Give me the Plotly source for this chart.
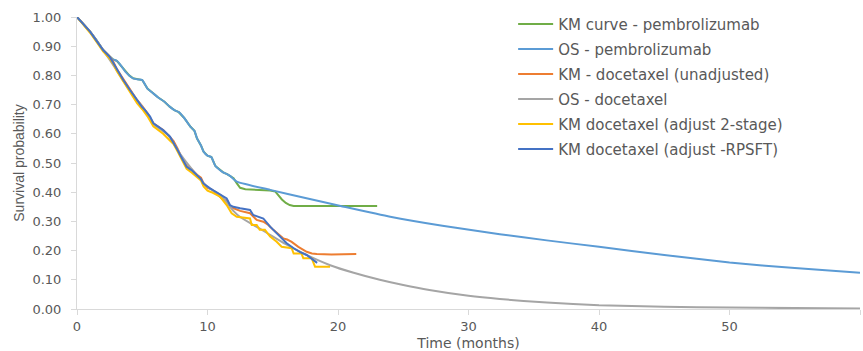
import plotly.graph_objects as go

# ---- data ----
t_pembro_km = [0, 0.5, 1.0, 1.5, 2.0, 2.5, 2.75, 3.05, 3.4, 3.7, 4.0, 4.3, 4.7, 5.0, 5.4, 5.8, 6.2, 6.7,
               7.1, 7.5, 7.8, 8.2, 8.7, 9.0, 9.2, 9.5, 9.7, 10.0, 10.3, 10.6, 10.9, 11.2, 11.5, 11.75,
               12.0, 12.25, 12.5, 12.9, 13.5, 14.2, 14.8, 15.2, 15.5, 15.7, 16.0, 16.3, 16.6, 18.0,
               20.0, 21.5, 23.0]
s_pembro_km = [1.0, 0.975, 0.95, 0.92, 0.887, 0.865, 0.855, 0.85, 0.832, 0.813, 0.80, 0.79, 0.786,
               0.784, 0.755, 0.74, 0.725, 0.71, 0.693, 0.68, 0.674, 0.655, 0.624, 0.61, 0.584, 0.56,
               0.539, 0.525, 0.52, 0.49, 0.478, 0.468, 0.462, 0.455, 0.448, 0.43, 0.415, 0.41, 0.408,
               0.407, 0.406, 0.402, 0.385, 0.375, 0.363, 0.356, 0.353, 0.353, 0.353, 0.353, 0.353]

t_pembro_os = [0, 0.5, 1.0, 1.5, 2.0, 2.5, 2.75, 3.05, 3.4, 3.7, 4.0, 4.3, 4.7, 5.0, 5.4, 5.8, 6.2, 6.7,
               7.1, 7.5, 7.8, 8.2, 8.7, 9.0, 9.2, 9.5, 9.7, 10.0, 10.3, 10.6, 10.9, 11.2, 11.5, 11.75,
               12.24, 14.8, 17.5, 20.2, 24.0, 28.0, 32.4, 36.0, 40.0, 45.0, 50.0, 55.0, 60.0]
s_pembro_os = [1.0, 0.975, 0.95, 0.92, 0.887, 0.865, 0.855, 0.85, 0.832, 0.813, 0.80, 0.79, 0.786,
               0.784, 0.755, 0.74, 0.725, 0.71, 0.693, 0.68, 0.674, 0.655, 0.624, 0.61, 0.584, 0.56,
               0.539, 0.525, 0.52, 0.49, 0.478, 0.468, 0.462, 0.455,
               0.436, 0.408, 0.38, 0.353, 0.316, 0.285, 0.256, 0.235, 0.213, 0.185, 0.159, 0.14, 0.124]

t_doc_km = [0, 0.5, 1.0, 1.5, 2.0, 2.5, 2.8, 3.05, 3.5, 4.0, 4.3, 4.6, 5.0, 5.4, 5.85, 6.2, 6.6, 7.1,
            7.4, 7.7, 8.0, 8.4, 8.8, 9.2, 9.5, 9.7, 10.0, 10.3, 10.8, 11.2, 11.5, 11.72, 12.0, 12.5,
            13.26, 13.5, 13.77, 14.28, 14.6, 15.04, 15.4, 15.8, 16.1, 16.45, 16.96, 17.3, 17.6, 18.0,
            18.37, 19.5, 20.5, 21.4]
s_doc_km = [1.0, 0.975, 0.95, 0.918, 0.887, 0.865, 0.845, 0.822, 0.79, 0.755, 0.735, 0.716, 0.695,
            0.67, 0.636, 0.625, 0.613, 0.59, 0.575, 0.55, 0.52, 0.49, 0.478, 0.46, 0.45, 0.43, 0.415,
            0.41, 0.39, 0.375, 0.372, 0.35, 0.345, 0.336, 0.328, 0.318, 0.305, 0.299, 0.29, 0.271,
            0.258, 0.242, 0.238, 0.23, 0.213, 0.205, 0.196, 0.19, 0.188, 0.187, 0.187, 0.188]

t_doc_os = [0, 1, 2, 3, 4, 5, 6, 7, 8, 9, 10, 11, 12, 12.5, 13.5, 14.5, 16, 17.5, 19.4, 21.2, 23.2,
            25, 27, 30, 32.4, 36, 40, 45, 50, 55, 60]
s_doc_os = [1.0, 0.95, 0.887, 0.82, 0.752, 0.692, 0.628, 0.595, 0.525, 0.468, 0.418, 0.39, 0.335,
            0.315, 0.288, 0.262, 0.222, 0.187, 0.15, 0.124, 0.10, 0.082, 0.065, 0.045, 0.034, 0.022,
            0.013, 0.008, 0.005, 0.003, 0.002]

t_doc_2stage = [0, 0.5, 1.0, 1.5, 2.0, 2.5, 2.8, 3.05, 3.5, 4.0, 4.3, 4.6, 5.0, 5.4, 5.85, 6.2, 6.6,
                7.1, 7.4, 7.7, 8.0, 8.4, 8.8, 9.2, 9.5, 9.7, 10.0, 10.3, 10.96, 11.47, 11.85, 12.24,
                13.26, 13.39, 13.77, 14.0, 14.4, 14.8, 15.3, 15.68, 16.45, 16.6, 17.2, 17.34, 17.98,
                18.24, 19.39]
s_doc_2stage = [1.0, 0.973, 0.946, 0.915, 0.882, 0.858, 0.838, 0.815, 0.782, 0.745, 0.725, 0.705,
                0.684, 0.66, 0.626, 0.615, 0.6, 0.578, 0.565, 0.54, 0.515, 0.48, 0.467, 0.45, 0.44,
                0.42, 0.405, 0.4, 0.385, 0.356, 0.328, 0.316, 0.31, 0.288, 0.288, 0.271, 0.271,
                0.248, 0.23, 0.213, 0.208, 0.19, 0.19, 0.174, 0.174, 0.145, 0.145]

t_doc_rpsft = [0, 0.5, 1.0, 1.5, 2.0, 2.5, 2.8, 3.05, 3.55, 4.06, 4.3, 4.57, 4.96, 5.2, 5.6, 5.85,
               6.2, 6.6, 7.13, 7.4, 7.64, 8.0, 8.4, 8.8, 9.17, 9.5, 9.68, 10.0, 10.2, 10.5, 10.96,
               11.47, 11.72, 11.98, 12.5, 13.26, 13.5, 14.28, 14.8, 15.17, 15.68, 16.07, 16.6, 17.1,
               17.6, 18.0, 18.4]
s_doc_rpsft = [1.0, 0.975, 0.95, 0.918, 0.887, 0.864, 0.841, 0.818, 0.784, 0.75, 0.735, 0.716,
               0.693, 0.682, 0.659, 0.636, 0.625, 0.613, 0.59, 0.57, 0.55, 0.52, 0.487, 0.475, 0.459,
               0.445, 0.43, 0.418, 0.413, 0.405, 0.392, 0.379, 0.356, 0.35, 0.345, 0.339, 0.322,
               0.31, 0.282, 0.265, 0.242, 0.225, 0.208, 0.195, 0.185, 0.17, 0.158]

series_names = ["KM curve - pembrolizumab", "OS - pembrolizumab", "KM - docetaxel (unadjusted)",
                "OS - docetaxel", "KM docetaxel (adjust 2-stage)", "KM docetaxel (adjust -RPSFT)"]
series_colors = ["#70AD47", "#5B9BD5", "#ED7D31", "#A5A5A5", "#FFC000", "#4472C4"]

x_ticks = [0, 10, 20, 30, 40, 50, 60]
y_ticks = [0.0, 0.1, 0.2, 0.3, 0.4, 0.5, 0.6, 0.7, 0.8, 0.9, 1.0]

series = [
    (t_pembro_km, s_pembro_km, "linear"),
    (t_pembro_os, s_pembro_os, "spline"),
    (t_doc_km, s_doc_km, "linear"),
    (t_doc_os, s_doc_os, "spline"),
    (t_doc_2stage, s_doc_2stage, "linear"),
    (t_doc_rpsft, s_doc_rpsft, "linear"),
]

fig = go.Figure()
for i, ((tx, sy, shape), name, col) in enumerate(zip(series, series_names, series_colors)):
    line = dict(color=col, width=2, shape=shape)
    if shape == "spline":
        line["smoothing"] = 0.5
    fig.add_trace(go.Scatter(x=tx, y=sy, mode="lines", name=name, line=line,
                             legendgroup=f"g{i}"))

txt = "#595959"
fig.update_layout(
    width=863, height=351,
    margin=dict(l=77, r=3, t=17, b=42),
    paper_bgcolor="white", plot_bgcolor="white",
    font=dict(family="DejaVu Sans", size=13, color=txt),
    showlegend=True,
    legend=dict(x=0.557, y=1.032, xanchor="left", yanchor="top",
                font=dict(family="DejaVu Sans", size=15, color=txt),
                bgcolor="rgba(0,0,0,0)", tracegroupgap=2.5, itemwidth=35,
                traceorder="grouped"),
    xaxis=dict(range=[0, 60], tickvals=x_ticks, ticktext=[str(v) for v in x_ticks],
               showgrid=False, zeroline=False, showline=True, linecolor="#D9D9D9", linewidth=1,
               ticks="outside", ticklen=5, tickcolor="#D9D9D9",
               tickfont=dict(family="DejaVu Sans", size=13, color=txt),
               title=dict(text="Time (months)", standoff=6,
                          font=dict(family="DejaVu Sans", size=14, color=txt))),
    yaxis=dict(range=[0, 1], tickvals=y_ticks, ticktext=[f"{v:.2f}" for v in y_ticks],
               showgrid=False, zeroline=False, showline=True, linecolor="#D9D9D9", linewidth=1,
               ticks="outside", ticklen=5, tickcolor="#D9D9D9", ticklabelstandoff=7,
               tickfont=dict(family="DejaVu Sans", size=13, color=txt),
               title=dict(text="Survival probability", standoff=4,
                          font=dict(family="Liberation Sans", size=14, color=txt))),
)

fig.write_html("out.html")
